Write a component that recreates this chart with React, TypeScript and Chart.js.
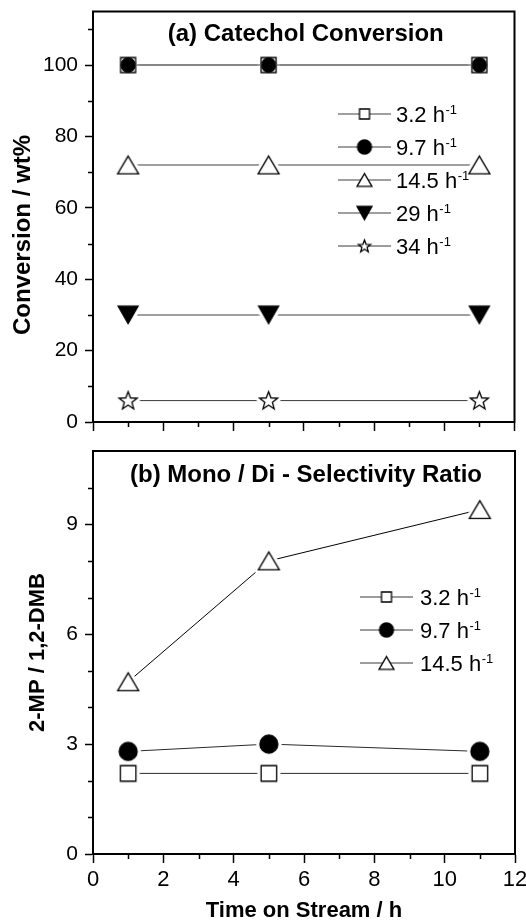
import React, { useEffect, useRef } from 'react';
import { Chart, registerables } from 'chart.js';

Chart.register(...registerables);

const FONT = "'Liberation Sans', Arial, Helvetica, sans-serif";

// ---------------- data ----------------
const timeOnStream = [1, 5, 11];
const topRates = ['3.2', '9.7', '14.5', '29', '34'];
const bottomRates = ['3.2', '9.7', '14.5'];

const conv32 = [100, 100, 100];
const conv97 = [100, 100, 100];
const conv145 = [72, 72, 72];
const conv29 = [30, 30, 30];
const conv34 = [6, 6, 6];

const ratio32 = [2.2, 2.2, 2.2];
const ratio97 = [2.8, 3.0, 2.8];
const ratio145 = [4.7, 8.0, 9.4];

const xMin = 0;
const xMax = 12;
const xStep = 2;
const xMinorTicks = [1, 3, 5, 7, 9, 11];

const convMax = 115;
const convStep = 20;
const convMinorTicks = [10, 30, 50, 70, 90, 110];

const ratioMax = 11;
const ratioStep = 3;
const ratioMinorTicks = [1, 2, 4, 5, 7, 8, 10];

const topTitle = '(a) Catechol Conversion';
const bottomTitle = '(b) Mono / Di - Selectivity Ratio';
const topYTitle = 'Conversion / wt%';
const bottomYTitle = '2-MP / 1,2-DMB';
const xTitle = 'Time on Stream / h';

// ---------------- helpers ----------------
type Kind = 'square' | 'circle' | 'triUp' | 'triDown' | 'star';

function makeMarker(kind: Kind, size: number, filled: boolean, halo: number): HTMLCanvasElement {
  const pad = halo + 2;
  const dim = Math.ceil(size + 2 * pad);
  const c = document.createElement('canvas');
  c.width = dim;
  c.height = dim;
  const ctx = c.getContext('2d')!;
  const cx = dim / 2;
  const cy = dim / 2;
  const h = size / 2;
  const path = () => {
    ctx.beginPath();
    if (kind === 'square') {
      ctx.rect(cx - h, cy - h, size, size);
    } else if (kind === 'circle') {
      ctx.arc(cx, cy, h, 0, Math.PI * 2);
    } else if (kind === 'triUp') {
      const th = size * 0.85;
      ctx.moveTo(cx, cy - th / 2);
      ctx.lineTo(cx + h, cy + th / 2);
      ctx.lineTo(cx - h, cy + th / 2);
      ctx.closePath();
    } else if (kind === 'triDown') {
      const th = size * 0.88;
      ctx.moveTo(cx, cy + th / 2);
      ctx.lineTo(cx + h, cy - th / 2);
      ctx.lineTo(cx - h, cy - th / 2);
      ctx.closePath();
    } else {
      for (let i = 0; i < 10; i++) {
        const r = i % 2 ? h * 0.42 : h;
        const a = -Math.PI / 2 + (i * Math.PI) / 5;
        const px = cx + r * Math.cos(a);
        const py = cy + 0.5 + r * Math.sin(a);
        if (i === 0) ctx.moveTo(px, py);
        else ctx.lineTo(px, py);
      }
      ctx.closePath();
    }
  };
  if (halo > 0) {
    path();
    ctx.fillStyle = '#fff';
    ctx.fill();
    ctx.strokeStyle = '#fff';
    ctx.lineWidth = 2 * halo + 1.5;
    ctx.lineJoin = 'round';
    ctx.stroke();
  }
  path();
  ctx.fillStyle = filled ? '#000' : '#fff';
  ctx.fill();
  ctx.strokeStyle = '#000';
  ctx.lineWidth = 1.3;
  ctx.lineJoin = 'miter';
  ctx.stroke();
  return c;
}

function pts(ys: number[]) {
  return timeOnStream.map((x, i) => ({ x, y: ys[i] }));
}

type LegendItem = { img: HTMLCanvasElement; color: string; width: number; label: string };
type Decor = {
  panelTitle: string;
  titleDy: number;
  legend: LegendItem[];
  legendX1: number;
  legendX2: number;
  legendTextX: number;
  legendRows: number[];
  xMinor: number[];
  yMinor: number[];
  yTitle?: { text: string; x: number; y: number };
};

function decorPlugin(d: Decor) {
  return {
    id: 'decor',
    afterDraw(chart: any) {
      const ctx: CanvasRenderingContext2D = chart.ctx;
      const area = chart.chartArea;
      const xs = chart.scales.x;
      const ys = chart.scales.y;
      ctx.save();
      // minor ticks
      ctx.strokeStyle = '#000';
      ctx.lineWidth = 1.5;
      ctx.beginPath();
      d.xMinor.forEach((v) => {
        const px = Math.round(xs.getPixelForValue(v)) + 0.5;
        ctx.moveTo(px, area.bottom);
        ctx.lineTo(px, area.bottom + 5);
      });
      d.yMinor.forEach((v) => {
        const py = Math.round(ys.getPixelForValue(v)) + 0.5;
        ctx.moveTo(area.left - 5, py);
        ctx.lineTo(area.left, py);
      });
      ctx.stroke();
      // frame
      ctx.lineWidth = 2;
      ctx.strokeRect(area.left, area.top, area.right - area.left, area.bottom - area.top);
      // panel title
      ctx.fillStyle = '#000';
      ctx.font = `bold 24px ${FONT}`;
      ctx.textAlign = 'center';
      ctx.textBaseline = 'middle';
      ctx.fillText(d.panelTitle, (area.left + area.right) / 2 + 2, area.top + d.titleDy);
      // y title (custom position)
      if (d.yTitle) {
        ctx.save();
        ctx.translate(d.yTitle.x, d.yTitle.y);
        ctx.rotate(-Math.PI / 2);
        ctx.fillText(d.yTitle.text, 0, 0);
        ctx.restore();
      }
      // legend
      d.legend.forEach((it, i) => {
        const y = d.legendRows[i];
        ctx.strokeStyle = it.color;
        ctx.lineWidth = it.width;
        ctx.beginPath();
        ctx.moveTo(d.legendX1, y);
        ctx.lineTo(d.legendX2, y);
        ctx.stroke();
        const mx = (d.legendX1 + d.legendX2) / 2;
        ctx.drawImage(it.img, mx - it.img.width / 2, y - it.img.height / 2);
        ctx.fillStyle = '#000';
        ctx.textAlign = 'left';
        ctx.textBaseline = 'alphabetic';
        ctx.font = `22px ${FONT}`;
        const main = it.label + ' h';
        const base = y + 8;
        ctx.fillText(main, d.legendTextX, base);
        const w = ctx.measureText(main).width;
        ctx.font = `13px ${FONT}`;
        ctx.fillText('-1', d.legendTextX + w + 0.5, base - 8.5);
      });
      ctx.restore();
    },
  };
}

function axisBase() {
  return {
    grid: {
      drawOnChartArea: false,
      drawTicks: true,
      tickWidth: 1.5,
      tickColor: '#000',
    },
    border: { display: true, color: '#000', width: 2 },
  };
}

export default function App() {
  const topRef = useRef<HTMLCanvasElement>(null);
  const botRef = useRef<HTMLCanvasElement>(null);

  useEffect(() => {
    // markers
    const mSqTop = makeMarker('square', 15, false, 3);
    const mCiTop = makeMarker('circle', 14, true, 0);
    const mTuTop = makeMarker('triUp', 21, false, 3);
    const mTdTop = makeMarker('triDown', 20, true, 3);
    const mStTop = makeMarker('star', 19, false, 3);
    const mSqBot = makeMarker('square', 15.5, false, 3);
    const mCiBot = makeMarker('circle', 18, true, 3);
    const mTuBot = makeMarker('triUp', 21, false, 3);
    const lSq = makeMarker('square', 10, false, 0);
    const lCi = makeMarker('circle', 14, true, 0);
    const lTu = makeMarker('triUp', 15, false, 0);
    const lTd = makeMarker('triDown', 15, true, 0);
    const lSt = makeMarker('star', 13, false, 0);

    const gray = '#7f7f7f';
    const dark = '#3a3a3a';

    const ds = (data: number[], img: HTMLCanvasElement, color: string, width: number, order: number, label: string) => ({
      label,
      data: pts(data),
      borderColor: color,
      borderWidth: width,
      pointStyle: img,
      pointRadius: 10,
      pointHoverRadius: 10,
      tension: 0,
      fill: false,
      order,
    });

    const topChart = new Chart(topRef.current!, {
      type: 'line',
      data: {
        datasets: [
          ds(conv32, mSqTop, gray, 1.5, 1, topRates[0]),
          ds(conv97, mCiTop, gray, 1.5, 0, topRates[1]),
          ds(conv145, mTuTop, gray, 1.5, 1, topRates[2]),
          ds(conv29, mTdTop, gray, 1.5, 1, topRates[3]),
          ds(conv34, mStTop, dark, 1, 1, topRates[4]),
        ],
      },
      options: {
        responsive: false,
        animation: false,
        devicePixelRatio: 1,
        layout: { padding: { top: 11, right: 9, left: 0, bottom: 0 } },
        plugins: { legend: { display: false }, tooltip: { enabled: false }, title: { display: false } },
        scales: {
          x: {
            type: 'linear',
            min: xMin,
            max: xMax,
            position: 'bottom',
            ...axisBase(),
            grid: { ...axisBase().grid, tickLength: 9 },
            ticks: { stepSize: xStep, includeBounds: false, autoSkip: false, maxRotation: 0, callback: () => '', padding: 0 },
            afterFit: (s: any) => {
              s.height = 18;
              s.paddingLeft = 0;
              s.paddingRight = 0;
            },
          },
          y: {
            type: 'linear',
            min: 0,
            max: convMax,
            ...axisBase(),
            grid: { ...axisBase().grid, tickLength: 8 },
            ticks: {
              stepSize: convStep,
              includeBounds: false,
              color: '#000',
              padding: 7,
              font: { family: FONT, size: 21 },
            },
            afterFit: (s: any) => {
              s.width = 93;
              s.paddingTop = 0;
              s.paddingBottom = 0;
            },
          },
        },
      } as any,
      plugins: [
        decorPlugin({
          panelTitle: topTitle,
          titleDy: 23,
          legend: [
            { img: lSq, color: gray, width: 1.5, label: topRates[0] },
            { img: lCi, color: gray, width: 1.5, label: topRates[1] },
            { img: lTu, color: gray, width: 1.5, label: topRates[2] },
            { img: lTd, color: gray, width: 1.5, label: topRates[3] },
            { img: lSt, color: dark, width: 1, label: topRates[4] },
          ],
          legendX1: 338,
          legendX2: 391,
          legendTextX: 396,
          legendRows: [114, 147, 180, 213, 246],
          xMinor: xMinorTicks,
          yMinor: convMinorTicks,
          yTitle: { text: topYTitle, x: 23, y: 235 },
        }) as any,
      ],
    });

    const botChart = new Chart(botRef.current!, {
      type: 'line',
      data: {
        datasets: [
          ds(ratio32, mSqBot, '#2a2a2a', 1, 1, bottomRates[0]),
          ds(ratio97, mCiBot, '#2a2a2a', 1, 1, bottomRates[1]),
          ds(ratio145, mTuBot, '#000', 1, 1, bottomRates[2]),
        ],
      },
      options: {
        responsive: false,
        animation: false,
        devicePixelRatio: 1,
        layout: { padding: { top: 5, right: 9, left: 0, bottom: 0 } },
        plugins: { legend: { display: false }, tooltip: { enabled: false }, title: { display: false } },
        scales: {
          x: {
            type: 'linear',
            min: xMin,
            max: xMax,
            position: 'bottom',
            ...axisBase(),
            grid: { ...axisBase().grid, tickLength: 9 },
            ticks: {
              stepSize: xStep,
              includeBounds: false,
              autoSkip: false,
              maxRotation: 0,
              color: '#000',
              padding: 4,
              font: { family: FONT, size: 22 },
            },
            title: {
              display: true,
              text: xTitle,
              color: '#000',
              font: { family: FONT, size: 22, weight: 'bold', lineHeight: 0.8 },
              padding: { top: 0, bottom: 0 },
            },
            afterFit: (s: any) => {
              s.height = 66;
              s.paddingLeft = 0;
              s.paddingRight = 0;
            },
          },
          y: {
            type: 'linear',
            min: 0,
            max: ratioMax,
            ...axisBase(),
            grid: { ...axisBase().grid, tickLength: 8 },
            ticks: {
              stepSize: ratioStep,
              includeBounds: false,
              color: '#000',
              padding: 7,
              font: { family: FONT, size: 21 },
            },
            title: {
              display: true,
              text: bottomYTitle,
              color: '#000',
              font: { family: FONT, size: 22, weight: 'bold', lineHeight: 1 },
              padding: { top: 26.5, bottom: 0 },
            },
            afterFit: (s: any) => {
              s.width = 93;
              s.paddingTop = 0;
              s.paddingBottom = 0;
            },
          },
        },
      } as any,
      plugins: [
        decorPlugin({
          panelTitle: bottomTitle,
          titleDy: 24.5,
          legend: [
            { img: lSq, color: dark, width: 1, label: bottomRates[0] },
            { img: lCi, color: dark, width: 1, label: bottomRates[1] },
            { img: lTu, color: dark, width: 1, label: bottomRates[2] },
          ],
          legendX1: 360,
          legendX2: 413,
          legendTextX: 420,
          legendRows: [157, 190, 223],
          xMinor: xMinorTicks,
          yMinor: ratioMinorTicks,
        }) as any,
      ],
    });

    return () => {
      topChart.destroy();
      botChart.destroy();
    };
  }, []);

  return (
    <div style={{ position: 'absolute', left: 0, top: 0, width: 526, height: 920, background: '#fff', overflow: 'hidden' }}>
      <canvas ref={topRef} width={526} height={440} style={{ position: 'absolute', left: 0, top: 0, width: 526, height: 440 }} />
      <canvas ref={botRef} width={526} height={480} style={{ position: 'absolute', left: 0, top: 440, width: 526, height: 480 }} />
    </div>
  );
}
